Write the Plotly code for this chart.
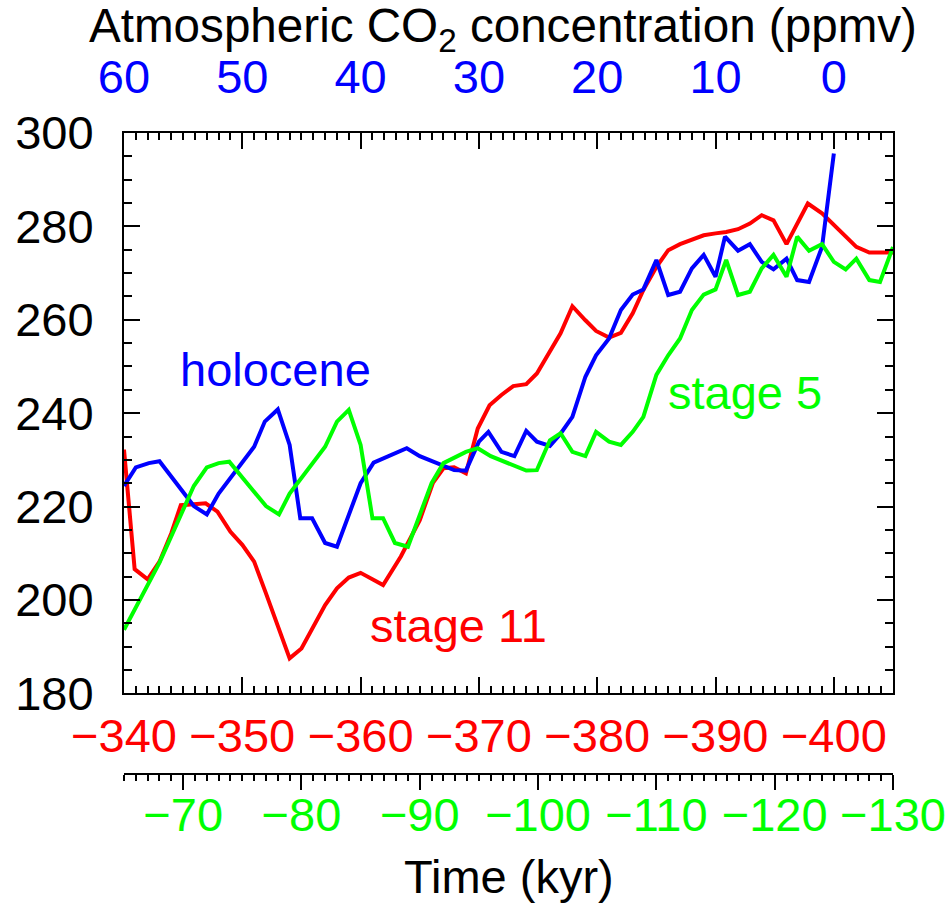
import plotly.graph_objects as go

# ---------------- data ----------------
# Holocene (top axis, kyr before present)
holocene_time = [60.0, 59.0, 57.9, 57.0, 54.1, 53.0, 52.0, 50.0, 49.0, 48.1,
                 47.0, 46.0, 45.1, 44.1, 43.0, 42.0, 40.0, 38.9, 36.1, 35.0,
                 32.1, 31.1, 30.0, 29.2, 28.1, 27.0, 26.0, 25.1, 24.0, 23.1,
                 22.1, 21.0, 20.1, 19.0, 18.0, 17.0, 16.1, 15.0, 14.0, 13.0,
                 12.0, 11.0, 10.0, 9.2, 8.1, 7.1, 6.1, 5.1, 4.0, 3.1,
                 2.1, 1.0, 0.0]
holocene_co2 = [224.4, 228.4, 229.3, 229.7, 220.1, 218.3, 222.8, 229.3, 232.8, 238.2,
                240.8, 233.2, 217.5, 217.5, 212.2, 211.4, 225.0, 229.4, 232.5, 230.8,
                227.8, 227.7, 233.9, 236.0, 231.7, 230.8, 236.2, 233.9, 233.0, 235.6,
                239.2, 247.8, 252.4, 256.0, 262.1, 265.4, 266.5, 272.8, 265.3, 266.0,
                271.0, 273.9, 269.2, 277.8, 274.8, 276.2, 272.4, 270.8, 273.1, 268.5,
                268.1, 275.6, 295.6]

# Stage 11 (red axis, kyr)
stage11_time = [-340.0, -340.9, -342.0, -343.0, -344.0, -344.8, -345.9, -346.9, -347.9, -349.0,
                -350.0, -351.0, -352.0, -353.0, -354.0, -355.0, -356.0, -357.0, -358.0, -359.0,
                -360.0, -361.0, -361.9, -363.4, -365.0, -366.1, -367.0, -367.9, -368.9, -369.9,
                -370.9, -371.9, -372.9, -374.0, -374.9, -376.9, -377.9, -379.0, -379.9, -381.0,
                -382.0, -383.0, -383.9, -385.0, -386.0, -387.0, -388.0, -389.0, -390.0, -390.9,
                -391.9, -392.9, -393.9, -394.9, -396.0, -396.9, -397.8, -399.0, -400.0, -401.0,
                -401.9, -403.0, -403.9, -405.0]
stage11_co2 = [232.2, 206.6, 204.4, 208.2, 214.3, 220.3, 220.5, 220.7, 218.9, 214.6,
               211.8, 208.2, 201.4, 194.6, 187.5, 189.6, 194.4, 198.9, 202.5, 204.8,
               205.8, 204.4, 203.2, 209.3, 217.1, 225.0, 228.2, 228.4, 227.1, 236.7,
               241.7, 243.9, 245.8, 246.2, 248.5, 257.1, 262.9, 259.9, 257.6, 256.2,
               257.2, 261.4, 266.4, 271.3, 274.9, 276.2, 277.2, 278.1, 278.5, 278.8,
               279.4, 280.6, 282.4, 281.3, 276.2, 280.6, 284.9, 282.8, 280.3, 277.8,
               275.6, 274.4, 274.4, 274.4]

# Stage 5 (green axis, kyr)
stage5_time = [-65.0, -65.9, -68.0, -70.9, -72.0, -73.0, -73.9, -77.0, -78.1, -79.0,
               -81.0, -82.0, -83.0, -84.0, -85.0, -86.0, -86.9, -87.9, -89.0, -91.0,
               -92.0, -93.9, -94.9, -96.0, -99.0, -99.9, -101.0, -101.9, -102.9, -104.0,
               -104.9, -106.0, -107.0, -108.0, -108.9, -110.0, -111.0, -112.0, -113.0, -114.0,
               -115.0, -115.9, -116.9, -117.9, -118.9, -119.9, -121.0, -121.9, -122.9, -124.0,
               -125.0, -126.0, -126.9, -128.0, -128.9, -130.0]
stage5_co2 = [193.6, 197.8, 208.0, 224.4, 228.4, 229.3, 229.6, 220.1, 218.3, 222.8,
              229.3, 232.8, 238.2, 240.7, 233.2, 217.5, 217.5, 212.2, 211.4, 225.0,
              229.3, 231.7, 232.5, 230.8, 227.7, 227.8, 234.2, 235.7, 231.7, 230.8,
              236.0, 233.9, 233.2, 236.0, 239.2, 248.2, 252.4, 256.0, 262.1, 265.4,
              266.5, 272.8, 265.3, 266.0, 271.0, 273.9, 269.2, 277.8, 274.8, 276.2,
              272.4, 270.8, 273.1, 268.5, 268.1, 275.6]

# tick labels
co2_ticks = [180, 200, 220, 240, 260, 280, 300]
red_ticks = [-340, -350, -360, -370, -380, -390, -400]
red_labels = ["\u2212340", "\u2212350", "\u2212360", "\u2212370", "\u2212380", "\u2212390", "\u2212400"]
blue_ticks = [60, 50, 40, 30, 20, 10, 0]
blue_labels = ["60", "50", "40", "30", "20", "10", "0"]
green_ticks = [-70, -80, -90, -100, -110, -120, -130]
green_labels = ["\u221270", "\u221280", "\u221290", "\u2212100", "\u2212110", "\u2212120", "\u2212130"]

RED = "#ff0000"
BLUE = "#0000ff"
GREEN = "#00ff00"
FONT = "Liberation Sans, Arial, Helvetica, sans-serif"
FS = 47

fig = go.Figure()
fig.add_trace(go.Scatter(x=stage11_time, y=stage11_co2, xaxis="x", yaxis="y", mode="lines",
                         line=dict(color=RED, width=4), name="stage 11"))
fig.add_trace(go.Scatter(x=stage5_time, y=stage5_co2, xaxis="x3", yaxis="y", mode="lines",
                         line=dict(color=GREEN, width=4), name="stage 5"))
fig.add_trace(go.Scatter(x=holocene_time, y=holocene_co2, xaxis="x2", yaxis="y", mode="lines",
                         line=dict(color=BLUE, width=4), name="holocene"))

Y0 = 0.2108

fig.update_layout(
    width=950, height=903,
    margin=dict(l=124, r=57, t=133, b=60, autoexpand=False),
    paper_bgcolor="white", plot_bgcolor="white",
    showlegend=False,
    font=dict(family=FONT, size=FS, color="black"),
    yaxis=dict(domain=[Y0, 1], range=[180, 300], tickvals=co2_ticks, automargin=False,
               ticks="inside", ticklen=16, tickwidth=2, tickcolor="black",
               minor=dict(dtick=5, tick0=180, ticks="inside", ticklen=8, tickwidth=2,
                          tickcolor="black", showgrid=False),
               showline=True, linewidth=2, linecolor="black", mirror="ticks",
               showgrid=False, zeroline=False, ticklabelstandoff=19,
               tickfont=dict(family=FONT, size=FS, color="black")),
    xaxis=dict(domain=[0, 1], range=[-340, -405], anchor="y", automargin=False,
               tickvals=red_ticks, ticktext=red_labels,
               ticks="inside", ticklen=16, tickwidth=2, tickcolor="black",
               minor=dict(dtick=1, tick0=-340, ticks="inside", ticklen=7, tickwidth=1.5,
                          tickcolor="black", showgrid=False),
               showline=True, linewidth=2, linecolor="black",
               showgrid=False, zeroline=False, ticklabelstandoff=0,
               tickfont=dict(family=FONT, size=FS, color=RED)),
    xaxis2=dict(overlaying="x", side="top", anchor="y", range=[60, -5], automargin=False,
                tickvals=blue_ticks, ticktext=blue_labels,
                ticks="inside", ticklen=16, tickwidth=2, tickcolor="black",
                minor=dict(dtick=1, tick0=60, ticks="inside", ticklen=7, tickwidth=1.5,
                           tickcolor="black", showgrid=False),
                showline=True, linewidth=2, linecolor="black",
                showgrid=False, zeroline=False, ticklabelstandoff=19,
                tickfont=dict(family=FONT, size=FS, color=BLUE)),
    xaxis3=dict(overlaying="x", side="bottom", anchor="free", position=0.0968,
                range=[-65, -130], tickvals=green_ticks, ticktext=green_labels,
                automargin=False,
                ticks="outside", ticklen=15, tickwidth=1.5, tickcolor="black",
                minor=dict(dtick=1, tick0=-65, ticks="outside", ticklen=6, tickwidth=1.5,
                           tickcolor="black", showgrid=False),
                showline=True, linewidth=2, linecolor="black",
                showgrid=False, zeroline=False, ticklabelstandoff=0,
                tickfont=dict(family=FONT, size=FS, color=GREEN)),
)

# pull the green tick labels closer to their axis line if allowed
try:
    fig.layout.xaxis3.ticklabelstandoff = -16
except Exception:
    pass

annotations = [
    dict(text="Atmospheric CO<sub>2</sub> concentration (ppmv)", xref="paper", yref="paper",
         x=(86.7 - 124) / 769, y=(843 - 28.7) / 710, xanchor="left", yanchor="middle",
         showarrow=False, font=dict(family=FONT, size=47.6, color="black")),
    dict(text="Time (kyr)", xref="paper", yref="paper",
         x=0.5, y=(843 - 876.7) / 710, xanchor="center", yanchor="middle",
         showarrow=False, font=dict(family=FONT, size=FS, color="black")),
    dict(text="holocene", xref="x", yref="y", x=-344.6, y=249.4,
         xanchor="left", yanchor="middle", showarrow=False,
         font=dict(family=FONT, size=FS, color=BLUE)),
    dict(text="stage 11", xref="x", yref="y", x=-360.6, y=194.5,
         xanchor="left", yanchor="middle", showarrow=False,
         font=dict(family=FONT, size=FS, color=RED)),
    dict(text="stage 5", xref="x", yref="y", x=-385.85, y=244.5,
         xanchor="left", yanchor="middle", showarrow=False,
         font=dict(family=FONT, size=FS, color=GREEN)),
]
fig.update_layout(annotations=annotations)

fig.write_html("out.html")
